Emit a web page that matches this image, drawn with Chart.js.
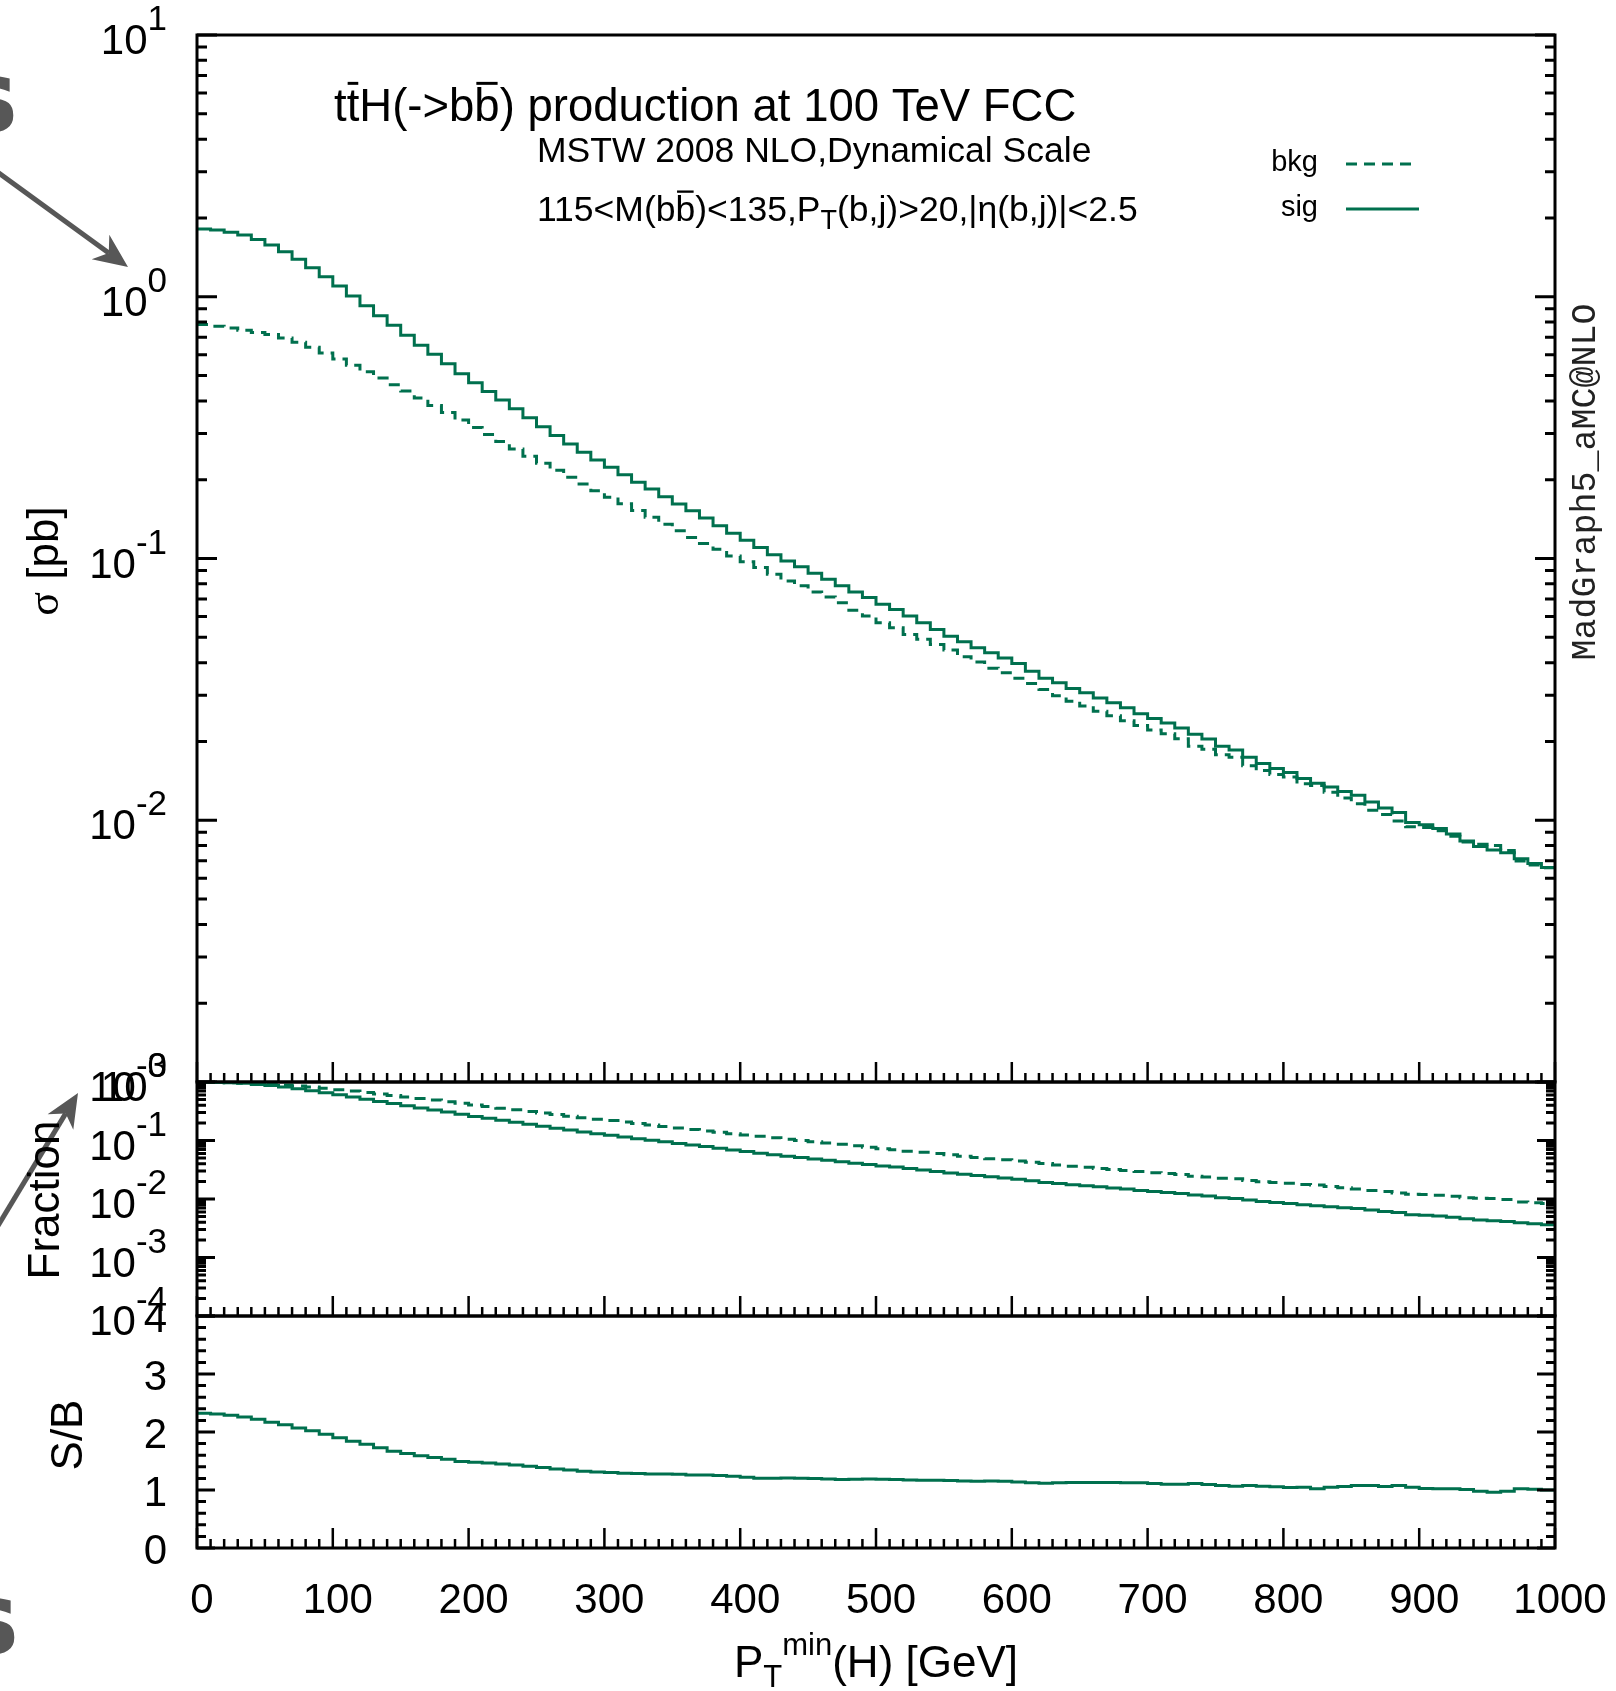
<!DOCTYPE html>
<html>
<head>
<meta charset="utf-8">
<script src="https://cdn.jsdelivr.net/npm/chart.js@4.4.1/dist/chart.umd.min.js"></script>
<style>
    html, body { margin: 0; padding: 0; background: #fff; }
    #page { position: relative; width: 1616px; height: 1691px; }
    #page canvas { position: absolute; left: 0; top: 0; }
</style>
</head>
<body>
<div id="page">
    <canvas id="sigmaChart" width="1616" height="1691"></canvas>
    <canvas id="fracChart" width="1616" height="1691"></canvas>
    <canvas id="ratioChart" width="1616" height="1691"></canvas>
</div>
<script>
// --- data (10 GeV bins, value = sigma for PT(H) > bin edge) ---
const BIN_WIDTH = 10;
const binLow = Array.from({ length: 100 }, (_, i) => i * BIN_WIDTH);

const sigXsec = [
    1.816, 1.80, 1.764, 1.722, 1.653, 1.577, 1.487, 1.390, 1.291, 1.193,
    1.098, 1.006, 0.924, 0.846, 0.779, 0.713, 0.653, 0.603, 0.555, 0.508,
    0.469, 0.435, 0.403, 0.373, 0.345, 0.319, 0.295, 0.274, 0.2546, 0.238,
    0.223, 0.209, 0.1955, 0.1843, 0.1722, 0.1614, 0.1522, 0.1427, 0.1334, 0.1250,
    0.1175, 0.1102, 0.1033, 0.0979, 0.0929, 0.0878, 0.0833, 0.0786, 0.0745, 0.0709,
    0.0668, 0.0639, 0.0603, 0.0568, 0.0536, 0.0505, 0.0481, 0.0456, 0.0436, 0.0417,
    0.0397, 0.0371, 0.0349, 0.0335, 0.0319, 0.0307, 0.0293, 0.0281, 0.0269, 0.0255,
    0.0245, 0.02355, 0.02252, 0.0213, 0.02043, 0.01916, 0.01854, 0.01739, 0.01649, 0.01578,
    0.01523, 0.01445, 0.01386, 0.01341, 0.01288, 0.01246, 0.01175, 0.01115, 0.01071, 0.0098,
    0.00962, 0.00929, 0.00886, 0.00833, 0.00793, 0.0077, 0.00752, 0.00713, 0.00684, 0.0066
];

const bkgXsec = [
    0.783, 0.772, 0.760, 0.745, 0.730, 0.717, 0.696, 0.670, 0.641, 0.610,
    0.578, 0.547, 0.517, 0.489, 0.461, 0.436, 0.410, 0.3845, 0.3614, 0.3378,
    0.3166, 0.2976, 0.2797, 0.2623, 0.2459, 0.2311, 0.2173, 0.2042, 0.1926, 0.1816,
    0.1713, 0.1620, 0.1527, 0.1439, 0.1353, 0.1276, 0.1203, 0.1141, 0.1085, 0.1023,
    0.0971, 0.0923, 0.0871, 0.0821, 0.0786, 0.0745, 0.0713, 0.0678, 0.0634, 0.0603,
    0.0568, 0.0544, 0.0513, 0.0491, 0.0469, 0.0447, 0.0421, 0.0402, 0.0381, 0.0366,
    0.0349, 0.0333, 0.0316, 0.0299, 0.0285, 0.0273, 0.0261, 0.0251, 0.0240, 0.0230,
    0.0221, 0.0214, 0.02047, 0.01917, 0.01867, 0.01779, 0.01741, 0.01615, 0.01548, 0.01497,
    0.01462, 0.01379, 0.01359, 0.0128, 0.01215, 0.01157, 0.01091, 0.01052, 0.00994, 0.00945,
    0.00939, 0.00911, 0.00869, 0.00826, 0.00809, 0.0080, 0.00767, 0.00699, 0.00675, 0.00659
];

const sbRatio = [
    2.325, 2.31, 2.29, 2.257, 2.22, 2.17, 2.125, 2.07, 2.02, 1.96,
    1.90, 1.84, 1.79, 1.73, 1.67, 1.63, 1.59, 1.56, 1.53, 1.49,
    1.48, 1.466, 1.45, 1.43, 1.41, 1.386, 1.363, 1.346, 1.323, 1.31,
    1.30, 1.29, 1.283, 1.277, 1.277, 1.27, 1.26, 1.26, 1.25, 1.237,
    1.22, 1.203, 1.203, 1.208, 1.203, 1.197, 1.19, 1.18, 1.186, 1.19,
    1.186, 1.18, 1.174, 1.168, 1.168, 1.163, 1.157, 1.151, 1.157, 1.151,
    1.14, 1.123, 1.117, 1.123, 1.128, 1.128, 1.128, 1.128, 1.123, 1.123,
    1.111, 1.10, 1.10, 1.111, 1.094, 1.077, 1.065, 1.077, 1.065, 1.054,
    1.042, 1.048, 1.02, 1.048, 1.06, 1.077, 1.077, 1.06, 1.077, 1.048,
    1.025, 1.02, 1.02, 1.008, 0.98, 0.962, 0.98, 1.02, 1.014, 1.002
];

// fraction of the total cross section left above the cut
const sigFraction = sigXsec.map(v => v / sigXsec[0]);
const bkgFraction = bkgXsec.map(v => v / bkgXsec[0]);

// tick labels
const xTickLabels = [0, 100, 200, 300, 400, 500, 600, 700, 800, 900, 1000];
const sigmaTickExps = [1, 0, -1, -2, -3];
const fracTickExps = [0, -1, -2, -3, -4];
const ratioTickLabels = [0, 1, 2, 3, 4];

// --- page layout ---
const PAGE_W = 1616, PAGE_H = 1691;
const PLOT_LEFT = 197, PLOT_RIGHT = 1555;
const SIGMA_TOP = 35, SIGMA_BOTTOM = 1082, FRAC_BOTTOM = 1316, RATIO_BOTTOM = 1548;
const GREEN = '#00704e';
const FONT = '"Liberation Sans", Arial, sans-serif';
const TICK_FONT = 42, SUP_FONT = 35;

const toSteps = values => values.map((v, i) => ({ x: binLow[i], y: v }))
    .concat([{ x: binLow[values.length - 1] + BIN_WIDTH, y: values[values.length - 1] }]);

const stepLine = (values, dashed) => ({
    data: toSteps(values),
    stepped: true,
    borderColor: GREEN,
    borderWidth: 3,
    borderDash: dashed ? [11, 7] : [],
    borderJoinStyle: 'miter',
    pointRadius: 0,
    fill: false
});

const logTicks = (minExp, maxExp) => {
    const ticks = [];
    for (let e = minExp; e < maxExp; e++) {
        for (let m = 1; m < 10; m++) ticks.push({ v: m * Math.pow(10, e), major: m === 1 });
    }
    ticks.push({ v: Math.pow(10, maxExp), major: true });
    return ticks;
};

const ratioTicks = [];
for (let k = 0; k <= 20; k++) ratioTicks.push({ v: k * 0.2, major: k % 5 === 0 });

const xTicks = [];
for (let v = 0; v <= 1000; v += BIN_WIDTH) xTicks.push({ v, major: v % 100 === 0 });

// text made of pieces: sub/superscripts and overbars
const drawRuns = (ctx, runs, x, y, align) => {
    let total = 0;
    runs.forEach(r => {
        ctx.font = `${r.size}px ${r.font || FONT}`;
        r.w = ctx.measureText(r.t).width;
        total += r.w;
    });
    let cx = align === 'right' ? x - total : align === 'center' ? x - total / 2 : x;
    ctx.textAlign = 'left';
    ctx.textBaseline = 'alphabetic';
    runs.forEach(r => {
        ctx.font = `${r.size}px ${r.font || FONT}`;
        const by = y + (r.dy || 0);
        ctx.fillText(r.t, cx, by);
        if (r.bar) ctx.fillRect(cx + r.w * 0.08, by - r.size * 0.86, r.w * 0.84, Math.max(2, r.size * 0.065));
        cx += r.w;
    });
};

const drawPower = (ctx, exp, rightX, tickY) => {
    drawRuns(ctx, [
        { t: '10', size: TICK_FONT },
        { t: String(exp), size: SUP_FONT, dy: -24 }
    ], rightX, tickY + 19, 'right');
};

const drawRotated = (ctx, runs, x, y) => {
    ctx.save();
    ctx.translate(x, y);
    ctx.rotate(-Math.PI / 2);
    drawRuns(ctx, runs, 0, 0, 'center');
    ctx.restore();
};

const drawFrame = (chart, yTicks, majorLen, minorLen) => {
    const { ctx, chartArea: a, scales: { x, y } } = chart;
    ctx.save();
    ctx.strokeStyle = '#000';
    ctx.lineWidth = 3;
    ctx.lineCap = 'butt';
    ctx.strokeRect(a.left, a.top, a.right - a.left, a.bottom - a.top);
    ctx.beginPath();
    xTicks.forEach(t => {
        const px = x.getPixelForValue(t.v);
        ctx.moveTo(px, a.bottom);
        ctx.lineTo(px, a.bottom - (t.major ? 20 : 9));
    });
    ctx.lineWidth = 2.5;
    ctx.stroke();
    ctx.beginPath();
    yTicks.forEach(t => {
        const py = y.getPixelForValue(t.v);
        const len = t.major ? majorLen : minorLen;
        ctx.moveTo(a.left, py);
        ctx.lineTo(a.left + len, py);
        ctx.moveTo(a.right, py);
        ctx.lineTo(a.right - len, py);
    });
    ctx.lineWidth = 3;
    ctx.stroke();
    ctx.restore();
};

const drawArrow = (ctx, x0, y0, x1, y1) => {
    const ang = Math.atan2(y1 - y0, x1 - x0);
    const c = Math.cos(ang), s = Math.sin(ang);
    const head = 34, half = 15;
    ctx.beginPath();
    ctx.moveTo(x0, y0);
    ctx.lineTo(x1 - head * 0.7 * c, y1 - head * 0.7 * s);
    ctx.stroke();
    ctx.beginPath();
    ctx.moveTo(x1, y1);
    ctx.lineTo(x1 - head * c - half * s, y1 - head * s + half * c);
    ctx.lineTo(x1 - head * 0.7 * c, y1 - head * 0.7 * s);
    ctx.lineTo(x1 - head * c + half * s, y1 - head * s - half * c);
    ctx.closePath();
    ctx.fill();
};

const makePanel = (canvasId, top, bottom, yScale, datasets, drawExtras) => new Chart(document.getElementById(canvasId), {
    type: 'line',
    data: { datasets },
    options: {
        responsive: false,
        animation: false,
        events: [],
        layout: { padding: { left: PLOT_LEFT, right: PAGE_W - PLOT_RIGHT, top, bottom: PAGE_H - bottom } },
        plugins: { legend: { display: false }, tooltip: { enabled: false } },
        scales: {
            x: { type: 'linear', min: 0, max: 1000, display: false },
            y: Object.assign({ display: false }, yScale)
        }
    },
    plugins: [{ id: 'gnuplotFrame', afterDraw: drawExtras }]
});

// top panel: cross sections
makePanel('sigmaChart', SIGMA_TOP, SIGMA_BOTTOM,
    { type: 'logarithmic', min: 1e-3, max: 10 },
    [stepLine(sigXsec, false), stepLine(bkgXsec, true)],
    chart => {
        const { ctx, scales: { y } } = chart;
        drawFrame(chart, logTicks(-3, 1), 20, 10);
        ctx.save();
        ctx.fillStyle = '#000';
        sigmaTickExps.forEach(e => drawPower(ctx, e, 167, y.getPixelForValue(Math.pow(10, e))));
        drawRotated(ctx, [{ t: 'σ', size: 44, font: '"Liberation Serif", serif' }, { t: ' [pb]', size: 44 }], 58, 561);

        drawRuns(ctx, [
            { t: 't', size: 45.5 }, { t: 't', size: 45.5, bar: true }, { t: 'H(->b', size: 45.5 },
            { t: 'b', size: 45.5, bar: true }, { t: ') production at 100 TeV FCC', size: 45.5 }
        ], 334, 121, 'left');
        drawRuns(ctx, [{ t: 'MSTW 2008 NLO,Dynamical Scale', size: 35.5 }], 537, 162, 'left');
        drawRuns(ctx, [
            { t: '115<M(b', size: 35.5 }, { t: 'b', size: 35.5, bar: true }, { t: ')<135,P', size: 35.5 },
            { t: 'T', size: 27, dy: 8 }, { t: '(b,j)>20,|η(b,j)|<2.5', size: 35.5 }
        ], 537, 221, 'left');

        // legend
        drawRuns(ctx, [{ t: 'bkg', size: 29 }], 1318, 171, 'right');
        drawRuns(ctx, [{ t: 'sig', size: 29 }], 1318, 216, 'right');
        ctx.strokeStyle = GREEN;
        ctx.lineWidth = 3;
        ctx.setLineDash([11, 7]);
        ctx.beginPath(); ctx.moveTo(1346, 164); ctx.lineTo(1418, 164); ctx.stroke();
        ctx.setLineDash([]);
        ctx.beginPath(); ctx.moveTo(1346, 209); ctx.lineTo(1419, 209); ctx.stroke();

        // generator tag on the right
        ctx.fillStyle = '#222';
        ctx.save();
        ctx.translate(1586, 482);
        ctx.rotate(-Math.PI / 2);
        ctx.font = '35px "Liberation Mono", monospace';
        ctx.textAlign = 'center';
        ctx.textBaseline = 'middle';
        ctx.fillText('MadGraph5_aMC@NLO', 0, 0);
        ctx.restore();

        // slide leftovers at the left edge
        ctx.fillStyle = ctx.strokeStyle = '#575757';
        ctx.lineWidth = 5;
        drawArrow(ctx, -4, 171, 128, 267);
        drawArrow(ctx, -4, 1229, 78, 1093);
        ctx.font = 'bold 100px "DejaVu Sans", sans-serif';
        ctx.textAlign = 'right';
        ctx.textBaseline = 'alphabetic';
        ctx.fillText('s', 18, 132);
        ctx.fillText('s', 19, 1654);
        ctx.restore();
    });

// middle panel: fraction above cut
makePanel('fracChart', SIGMA_BOTTOM, FRAC_BOTTOM,
    { type: 'logarithmic', min: 1e-4, max: 1 },
    [stepLine(sigFraction, false), stepLine(bkgFraction, true)],
    chart => {
        const { ctx, scales: { y } } = chart;
        drawFrame(chart, logTicks(-4, 0), 18, 9);
        ctx.save();
        ctx.fillStyle = '#000';
        fracTickExps.forEach(e => drawPower(ctx, e, 167, y.getPixelForValue(Math.pow(10, e))));
        drawRotated(ctx, [{ t: 'Fraction', size: 44 }], 59, 1200);
        ctx.restore();
    });

// bottom panel: S/B and the shared x axis
makePanel('ratioChart', FRAC_BOTTOM, RATIO_BOTTOM,
    { type: 'linear', min: 0, max: 4 },
    [stepLine(sbRatio, false)],
    chart => {
        const { ctx, scales: { x, y } } = chart;
        drawFrame(chart, ratioTicks, 18, 9);
        ctx.save();
        ctx.fillStyle = '#000';
        ratioTickLabels.forEach(v => drawRuns(ctx, [{ t: String(v), size: TICK_FONT }], 167, y.getPixelForValue(v) + 16, 'right'));
        xTickLabels.forEach(v => drawRuns(ctx, [{ t: String(v), size: TICK_FONT }], x.getPixelForValue(v) + 5, 1613, 'center'));
        drawRotated(ctx, [{ t: 'S/B', size: 44 }], 82, 1435);
        drawRuns(ctx, [
            { t: 'P', size: 44 }, { t: 'T', size: 31, dy: 10 }, { t: 'min', size: 31, dy: -22 },
            { t: '(H) [GeV]', size: 44 }
        ], 876, 1677, 'center');
        ctx.restore();
    });
</script>
</body>
</html>
